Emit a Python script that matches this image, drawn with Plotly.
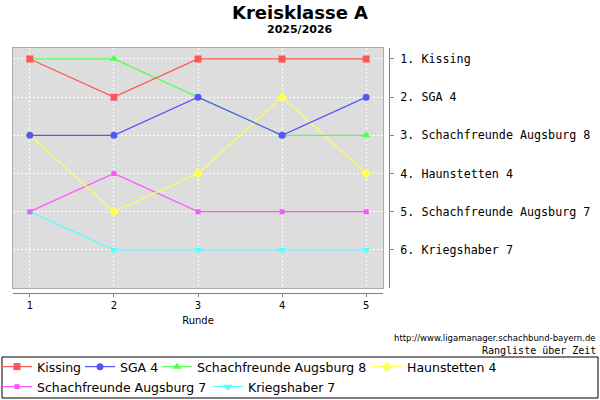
import plotly.graph_objects as go

# Rangliste pro Runde (1 = oben)
runden = [1, 2, 3, 4, 5]
teams = ["Kissing", "SGA 4", "Schachfreunde Augsburg 8", "Haunstetten 4",
         "Schachfreunde Augsburg 7", "Kriegshaber 7"]
kissing = [1, 2, 1, 1, 1]
sga4 = [3, 3, 2, 3, 2]
sfa8 = [1, 1, 2, 3, 3]
haunstetten4 = [3, 5, 4, 2, 4]
sfa7 = [5, 4, 5, 5, 5]
kriegshaber7 = [5, 6, 6, 6, 6]
endstand = ["1. Kissing", "2. SGA 4", "3. Schachfreunde Augsburg 8",
            "4. Haunstetten 4", "5. Schachfreunde Augsburg 7", "6. Kriegshaber 7"]

ranks = [kissing, sga4, sfa8, haunstetten4, sfa7, kriegshaber7]
colors = ["#FF5555", "#5555FF", "#55FF55", "#FFFF55", "#FF55FF", "#55FFFF"]
symbols = ["square", "circle", "triangle-up", "diamond", "square", "triangle-down"]
sizes = [7, 7, 8, 8, 5, 8]

# one legend per entry so the legend rows stay compact (x in px, row centre y in px)
leg_x = [-3, 80, 157, 367, -3, 208]
leg_y = [367, 367, 367, 367, 387, 387]

fig = go.Figure()

# first series drawn on top, so add them in reverse
for i in reversed(range(len(teams))):
    fig.add_trace(go.Scatter(
        x=runden, y=ranks[i], mode="lines+markers", name=teams[i],
        line=dict(color=colors[i], width=1.2),
        marker=dict(symbol=symbols[i], size=sizes[i], color=colors[i]),
        legend="legend" if i == 0 else f"legend{i + 1}",
    ))

# dummy trace so the extra axes get drawn
fig.add_trace(go.Scatter(x=[None], y=[None], xaxis="x2", yaxis="y2",
                         showlegend=False, hoverinfo="skip"))

xdom = [13 / 600, 383 / 600]
ydom = [0.28, 0.88125]
grid = dict(showgrid=True, gridcolor="white", griddash="2px,2px", gridwidth=1)

fig.update_layout(
    width=600, height=400,
    margin=dict(l=0, r=0, t=0, b=0, autoexpand=False),
    paper_bgcolor="white", plot_bgcolor="#DDDDDD",
    font=dict(family="DejaVu Sans", color="black"),
    xaxis=dict(domain=xdom, range=[0.8, 5.2], tickvals=runden, showticklabels=False,
               zeroline=False, showline=True, mirror=True, linecolor="#AAAAAA", **grid),
    yaxis=dict(domain=ydom, range=[7, 0.7], tickvals=[1, 2, 3, 4, 5, 6], showticklabels=False,
               zeroline=False, showline=True, mirror=True, linecolor="#AAAAAA", **grid),
    xaxis2=dict(overlaying="x", anchor="free", position=0.2675, domain=xdom,
                range=[0.8, 5.2], tickvals=runden, showgrid=False, zeroline=False,
                showline=True, linecolor="#808080", ticks="outside", ticklen=3,
                tickcolor="#808080", tickfont=dict(size=10),
                title=dict(text="Runde", font=dict(size=10), standoff=6)),
    yaxis2=dict(overlaying="y", anchor="free", position=389 / 600, side="right",
                domain=ydom, range=[7, 0.7], tickvals=[1, 2, 3, 4, 5, 6], ticktext=endstand,
                showgrid=False, zeroline=False, showline=True, linecolor="#808080",
                ticks="outside", ticklen=4, tickcolor="#808080", ticklabelstandoff=4,
                tickfont=dict(family="DejaVu Sans Mono", size=11.7)),
    showlegend=True,
)

for i in range(len(teams)):
    key = "legend" if i == 0 else f"legend{i + 1}"
    fig.update_layout({key: dict(orientation="h", x=leg_x[i] / 600, xanchor="left",
                                 y=(400 - leg_y[i]) / 400, yanchor="middle",
                                 font=dict(size=12.5), bgcolor="rgba(0,0,0,0)",
                                 itemwidth=30)})

fig.add_shape(type="rect", xref="paper", yref="paper",
              x0=2 / 600, x1=598 / 600, y0=0.005, y1=0.1075,
              line=dict(color="black", width=1))

fig.add_annotation(text="<b>Kreisklasse A</b>", x=0.5, y=0.97, xref="paper", yref="paper",
                   showarrow=False, font=dict(size=18), yanchor="middle")
fig.add_annotation(text="<b>2025/2026</b>", x=0.5, y=0.925, xref="paper", yref="paper",
                   showarrow=False, font=dict(size=11), yanchor="middle")
fig.add_annotation(text="http://www.ligamanager.schachbund-bayern.de", x=598 / 600, y=0.155,
                   xref="paper", yref="paper", xanchor="right", yanchor="middle",
                   showarrow=False, font=dict(size=8.5))
fig.add_annotation(text="Rangliste über Zeit", x=598 / 600, y=0.125,
                   xref="paper", yref="paper", xanchor="right", yanchor="middle",
                   showarrow=False, font=dict(family="DejaVu Sans Mono", size=10))

fig.write_html("out.html", config={"displayModeBar": False},
               post_script="document.body.style.margin='0';")
